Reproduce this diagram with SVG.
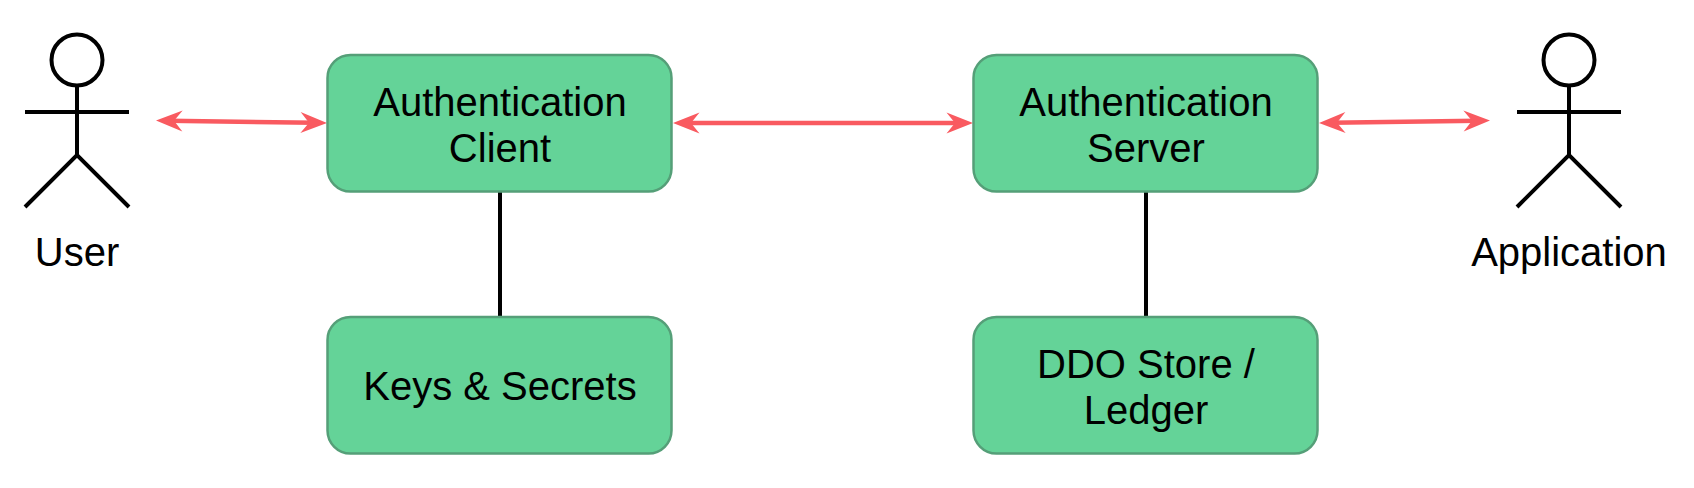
<svg xmlns="http://www.w3.org/2000/svg" width="1694" height="488" viewBox="0 0 1694 488">
<style>
.box{fill:#64d398;stroke:#559f78;stroke-width:2.500}
.t{font-family:"Liberation Sans",Arial,sans-serif;font-size:40px;fill:#000;text-anchor:middle}
.actor{fill:none;stroke:#000;stroke-width:4}
.link{fill:none;stroke:#000;stroke-width:4}
.red{fill:none;stroke:#f95a60;stroke-width:4.500;marker-start:url(#ah);marker-end:url(#ah)}
</style>
<defs>
<marker id="ah" markerUnits="userSpaceOnUse" markerWidth="30" markerHeight="24" refX="15" refY="12" orient="auto-start-reverse" viewBox="0 0 30 24">
<path d="M27 12L0.500 1.500L9 12L0.500 22.500Z" fill="#f95a60"/>
</marker>
</defs>
<rect width="1694" height="488" fill="#fff"/>
<g id="connectors">
<line class="link" x1="500" y1="191" x2="500" y2="317"/>
<line class="link" x1="1146" y1="191" x2="1146" y2="317"/>
<line class="red" x1="168" y1="120.700" x2="315" y2="122.800"/>
<line class="red" x1="685" y1="123" x2="961" y2="123"/>
<line class="red" x1="1331" y1="122.800" x2="1478" y2="120.700"/>
</g>
<g id="user"><circle class="actor" cx="77" cy="60" r="25.500"/><path class="actor" d="M77 86V155M25 112H129M25 207L77 155L129 207"/><text class="t" x="77" y="266">User</text></g>
<g id="auth-client"><rect class="box" x="327.500" y="55" width="344" height="136.500" rx="23"/><text class="t" x="500" y="116">Authentication</text><text class="t" x="500" y="162">Client</text></g>
<g id="auth-server"><rect class="box" x="973.500" y="55" width="344" height="136.500" rx="23"/><text class="t" x="1146" y="116">Authentication</text><text class="t" x="1146" y="162">Server</text></g>
<g id="keys"><rect class="box" x="327.500" y="317" width="344" height="136.500" rx="23"/><text class="t" x="500" y="400">Keys &amp; Secrets</text></g>
<g id="ddo"><rect class="box" x="973.500" y="317" width="344" height="136.500" rx="23"/><text class="t" x="1146" y="378">DDO Store /</text><text class="t" x="1146" y="424">Ledger</text></g>
<g id="application"><circle class="actor" cx="1569" cy="60" r="25.500"/><path class="actor" d="M1569 86V155M1517 112H1621M1517 207L1569 155L1621 207"/><text class="t" x="1569" y="266">Application</text></g>
</svg>
